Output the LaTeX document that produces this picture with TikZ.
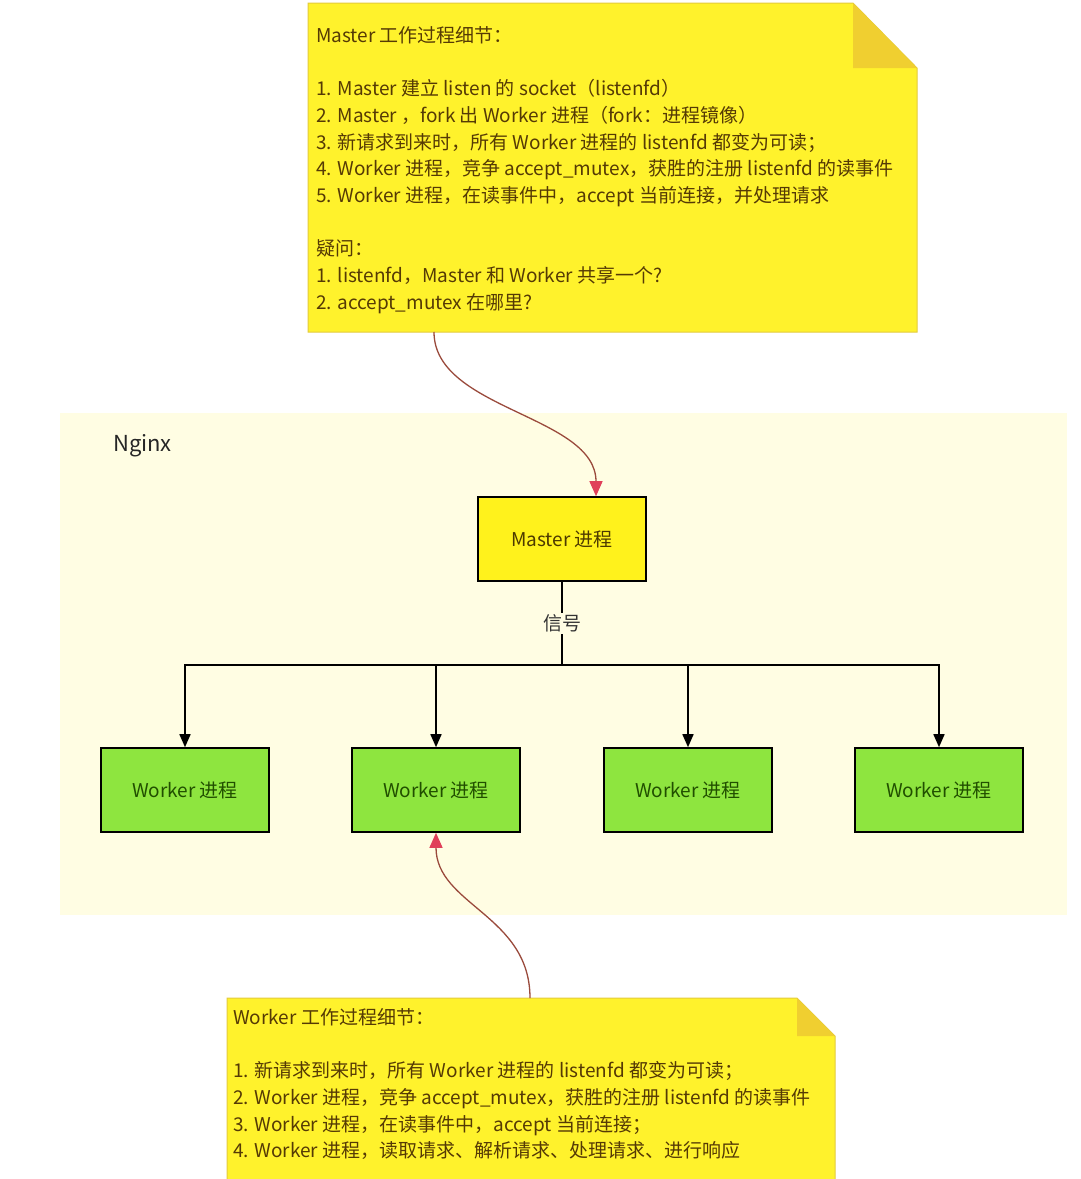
\documentclass[tikz,border=0pt]{standalone}
\usepackage{fontspec}
\setmainfont{Noto Sans CJK SC}
\usetikzlibrary{positioning,arrows.meta,calc}
\definecolor{notefill}{HTML}{FFF22C}
\definecolor{notefold}{HTML}{F0CF30}
\definecolor{noteedge}{HTML}{E3CB3C}
\definecolor{notetext}{HTML}{553A05}
\definecolor{nginxbg}{HTML}{FFFDE3}
\definecolor{masterfill}{HTML}{FFF21C}
\definecolor{mastertext}{HTML}{4D3A00}
\definecolor{workerfill}{HTML}{8EE53F}
\definecolor{workertext}{HTML}{214F00}
\definecolor{hintline}{HTML}{9A4A3C}
\definecolor{hinthead}{HTML}{E0405A}

\tikzset{
  proc/.style={draw=black, line width=1.6pt, minimum width=168pt, minimum height=84pt,
    inner sep=0pt, font=\fontsize{19}{21}\selectfont},
  master/.style={proc, fill=masterfill, text=mastertext},
  worker/.style={proc, fill=workerfill, text=workertext},
  branch/.style={-{Triangle[length=13pt,width=11pt]}, line width=1.6pt},
  hint/.style={-{Triangle[length=15pt,width=13pt,color=hinthead]}, draw=hintline, line width=1.3pt},
  notetext/.style={anchor=north west, align=left, inner sep=0pt, text=notetext,
    font=\fontsize{19}{26.7}\selectfont},
}

\begin{document}
\begin{tikzpicture}[x=1pt,y=-1pt]
    \useasboundingbox (0,0) rectangle (1080,1179);
    \fill[white] (0,0) rectangle (1080,1179);

    % Nginx area
    \node[fill=nginxbg, minimum width=1007pt, minimum height=502pt, inner sep=0pt] (nginx) at (563.5,664) {};
    \node[anchor=west, inner sep=0pt, font=\fontsize{22}{24}\selectfont, text=black!85] (nginxname) at (113,446) {Nginx};

    % master note
    \fill[notefill] (308,3) -- (853,3) -- (917,68) -- (917,332) -- (308,332) -- cycle;
    \draw[noteedge, line width=1pt] (308,3) -- (853,3) -- (917,68) -- (917,332) -- (308,332) -- cycle;
    \fill[notefold] (853,3) -- (853,68) -- (917,68) -- cycle;
    \node[notetext] (mtext) at (316,26) {Master 工作过程细节：\\[26.7pt]
      1. Master 建立 listen 的 socket（listenfd）\\
      2. Master ，fork 出 Worker 进程（fork：进程镜像）\\
      3. 新请求到来时，所有 Worker 进程的 listenfd 都变为可读；\\
      4. Worker 进程，竞争 accept\_mutex，获胜的注册 listenfd 的读事件\\
      5. Worker 进程，在读事件中，accept 当前连接，并处理请求\\[26.7pt]
      疑问：\\
      1. listenfd，Master 和 Worker 共享一个?\\
      2. accept\_mutex 在哪里?};
    \coordinate (mtail) at (434,332);

    % worker note
    \fill[notefill] (227,998) -- (797,998) -- (835,1036) -- (835,1200) -- (227,1200) -- cycle;
    \draw[noteedge, line width=1pt] (227,998) -- (797,998) -- (835,1036) -- (835,1200) -- (227,1200) -- cycle;
    \fill[notefold] (797,998) -- (797,1036) -- (835,1036) -- cycle;
    \node[notetext] (wtext) at (233,1008) {Worker 工作过程细节：\\[26.7pt]
      1. 新请求到来时，所有 Worker 进程的 listenfd 都变为可读；\\
      2. Worker 进程，竞争 accept\_mutex，获胜的注册 listenfd 的读事件\\
      3. Worker 进程，在读事件中，accept 当前连接；\\
      4. Worker 进程，读取请求、解析请求、处理请求、进行响应};
    \coordinate (wtail) at (530,998);

    % processes
    \node[master] (master) at (562,539) {Master 进程};
    \foreach \i/\x in {1/185,2/436,3/688,4/939}
      \node[worker] (w\i) at (\x,790) {Worker 进程};

    \coordinate (fork) at (562,665);
    \draw[line width=1.6pt] (master) -- node[fill=nginxbg, inner sep=2pt, text=black!80,
      font=\fontsize{19}{21}\selectfont] (signal) {信号} (fork);
    \foreach \i in {1,...,4}
      \draw[branch] (fork) -| (w\i.north);

    \draw[hint] (mtail) .. controls (434,410) and (596,415) .. ($(master.north)+(34,0)$);
    \draw[hint] (wtail) .. controls (530,915) and (436,905) .. (w2.south);
  \end{tikzpicture}
\end{document}
